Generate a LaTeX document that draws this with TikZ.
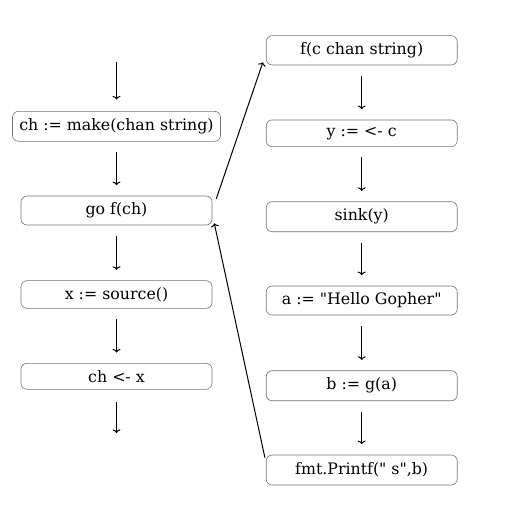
\documentclass[tikz,border=0pt]{standalone}
\usepackage{fontspec}
\usetikzlibrary{arrows.meta}
\setmainfont{DejaVu Serif}
\begin{document}
\begin{tikzpicture}[x=1pt,y=-1pt,
  box/.style={draw=black!55, line width=0.6pt, rounded corners=6pt, minimum width=191pt, inner sep=0pt,
    font=\fontsize{15.8}{19}\selectfont, text=black},
  tip/.style={-{To[length=3.6pt,width=8pt]}, line width=1pt},
  flow/.style={tip, shorten >=10.5pt, shorten <=10.5pt},
  free/.style={tip}]
\useasboundingbox (0,0) rectangle (512,504);
% left column
\node[box, minimum width=208pt, minimum height=30pt] (make) at (116.5,126.3) {ch := make(chan string)};
\node[box, minimum height=29pt] (go) at (116.5,210.5) {go f(ch)};
\node[box, minimum height=27.7pt] (src) at (116.5,294.5) {x := source()};
\node[box, minimum height=26pt] (send) at (116.5,376.3) {ch <- x};
\coordinate (ltop) at (116.5,62);
\coordinate (ltip) at (116.5,99.5);
\coordinate (lbot) at (116.5,402);
\coordinate (lend) at (116.5,433);
% right column
\node[box, minimum height=29.3pt] (f) at (361.7,50.3) {f(c chan string)};
\node[box, minimum height=26.7pt] (recv) at (361.7,133.3) {y := <- c};
\node[box, minimum height=30pt] (sink) at (361.7,216.7) {sink(y)};
\node[box, minimum height=29pt] (hello) at (361.7,300.5) {a := \textquotedbl Hello Gopher\textquotedbl};
\node[box, minimum height=30pt] (g) at (361.7,385.7) {b := g(a)};
\node[box, minimum height=30pt] (fmt) at (361.7,470) {fmt.Printf(\textquotedbl{} s\textquotedbl,b)};
% left arrows
\draw[free] (ltop) -- (ltip);
\draw[flow] (make) -- (go);
\draw[flow] (go) -- (src);
\draw[flow] (src) -- (send);
\draw[free] (lbot) -- (lend);
% right arrows
\draw[flow] (f) -- (recv);
\draw[flow] (recv) -- (sink);
\draw[flow] (sink) -- (hello);
\draw[flow] (hello) -- (g);
\draw[flow] (g) -- (fmt);
% diagonals
\draw[free] ([xshift=4pt,yshift=-3pt]go.north east) -- ([xshift=-3pt,yshift=3pt]f.south west);
\draw[free] ([xshift=-1pt,yshift=-3pt]fmt.north west) -- ([xshift=2pt,yshift=2pt]go.south east);
\end{tikzpicture}
\end{document}
